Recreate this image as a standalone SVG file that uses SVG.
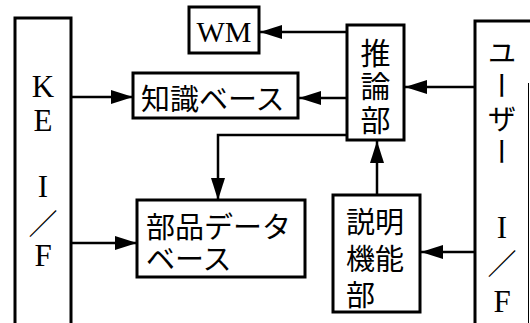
<svg xmlns="http://www.w3.org/2000/svg" width="530" height="323" viewBox="0 0 530 323">
<style>
.box{fill:#fff;stroke:#000;stroke-width:3}
.jp{font-family:"Noto Sans CJK JP","Noto Sans",sans-serif;font-size:29px;fill:#000}
.lat{font-family:"Liberation Serif","Times New Roman",serif;font-size:31px;fill:#000;text-anchor:middle}
.ln{fill:none;stroke:#000;stroke-width:2.5}
</style>
<defs>
<marker id="ah" markerUnits="userSpaceOnUse" markerWidth="22" markerHeight="14" refX="22" refY="7" orient="auto">
<path d="M0,0 L22,7 L0,14 z" fill="#000"/>
</marker>
</defs>
<rect width="530" height="323" fill="#fff"/>
<g id="ke-if">
<rect class="box" x="15" y="18" width="56" height="320"/>
<text class="lat" x="43" y="97">K</text>
<text class="lat" x="43" y="131">E</text>
<text class="lat" x="43" y="197">I</text>
<text class="jp" x="43" y="222" text-anchor="middle" dominant-baseline="central">／</text>
<text class="lat" x="43" y="266">F</text>
</g>
<g id="wm">
<rect class="box" x="189" y="7" width="70" height="46"/>
<text class="lat" x="224" y="42" style="font-size:30px">WM</text>
</g>
<g id="kb">
<rect class="box" x="133" y="73" width="165" height="45"/>
<text class="jp" x="141" y="97" dominant-baseline="central">知識ベース</text>
</g>
<g id="inference">
<rect class="box" x="347" y="25" width="57" height="115"/>
<text class="jp" x="375.5" y="51" text-anchor="middle" dominant-baseline="central" style="font-size:30px">推</text>
<text class="jp" x="375.5" y="84" text-anchor="middle" dominant-baseline="central" style="font-size:30px">論</text>
<text class="jp" x="375.5" y="118" text-anchor="middle" dominant-baseline="central" style="font-size:30px">部</text>
</g>
<g id="parts-db">
<rect class="box" x="137" y="200" width="168" height="77"/>
<text class="jp" x="146" y="225" dominant-baseline="central">部品データ</text>
<text class="jp" x="146" y="257" dominant-baseline="central">ベース</text>
</g>
<g id="explain">
<rect class="box" x="333" y="195" width="87" height="117"/>
<text class="jp" x="346" y="220" dominant-baseline="central">説明</text>
<text class="jp" x="346" y="257" dominant-baseline="central">機能</text>
<text class="jp" x="346" y="293" dominant-baseline="central">部</text>
</g>
<g id="user-if">
<rect class="box" x="475" y="21" width="80" height="320"/>
<line x1="528.5" y1="83" x2="528.5" y2="323" stroke="#000" stroke-width="1"/>
<text class="jp" x="502" y="38" style="writing-mode:vertical-rl;letter-spacing:4px" text-anchor="start">ユーザー</text>
<text class="lat" x="502" y="238">I</text>
<text class="jp" x="502" y="262" text-anchor="middle" dominant-baseline="central">／</text>
<text class="lat" x="502" y="312">F</text>
</g>
<g id="connectors">
<line class="ln" x1="72" y1="97" x2="133" y2="97" marker-end="url(#ah)"/>
<line class="ln" x1="72" y1="243" x2="137" y2="243" marker-end="url(#ah)"/>
<line class="ln" x1="347" y1="32" x2="260" y2="32" marker-end="url(#ah)"/>
<line class="ln" x1="347" y1="98" x2="299" y2="98" marker-end="url(#ah)"/>
<polyline class="ln" points="347,135 218,135 218,200" marker-end="url(#ah)"/>
<line class="ln" x1="475" y1="87" x2="405" y2="87" marker-end="url(#ah)"/>
<line class="ln" x1="475" y1="252" x2="421" y2="252" marker-end="url(#ah)"/>
<line class="ln" x1="377" y1="195" x2="377" y2="141" marker-end="url(#ah)"/>
</g>
</svg>
